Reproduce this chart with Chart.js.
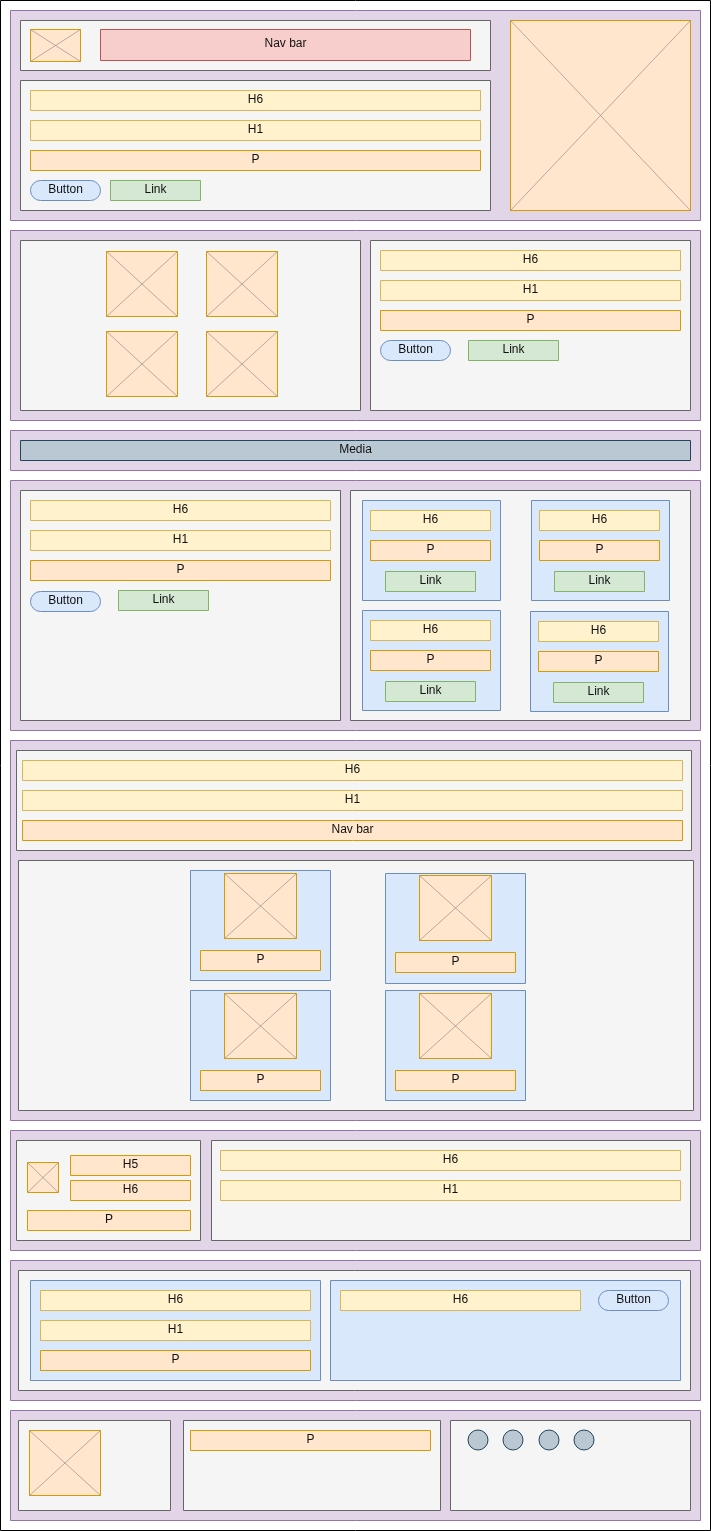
<!DOCTYPE html>
<html>
<head>
<meta charset="utf-8">
<title>Page wireframe</title>
<script src="https://cdn.jsdelivr.net/npm/chart.js@4/dist/chart.umd.min.js"></script>
<style>
  html, body { margin: 0; padding: 0; background: #fff; }
  canvas { display: block; }
</style>
</head>
<body>
<canvas id="page" width="711" height="1531"></canvas>
<script>
/* ===== DATA ===== */
// every box is [x, y, width, height] in page units, labelled ones add a text
const PAGE_W = 711;
const PAGE_H = 1531;

const frame = [[0, 0, 710, 1530]];

const sections = [
  [10, 10, 690, 210], [10, 230, 690, 190], [10, 430, 690, 40], [10, 480, 690, 250],
  [10, 740, 690, 380], [10, 1130, 690, 120], [10, 1260, 690, 140], [10, 1410, 690, 110]
];

const panels = [
  [20, 20, 470, 50], [20, 80, 470, 130],
  [20, 240, 340, 170], [370, 240, 320, 170],
  [20, 490, 320, 230], [350, 490, 340, 230],
  [16, 750, 675, 100], [18, 860, 675, 250],
  [16, 1140, 184, 100], [211, 1140, 479, 100],
  [18, 1270, 672, 120],
  [18, 1420, 152, 90], [183, 1420, 257, 90], [450, 1420, 240, 90]
];

const cards = [
  [362, 500, 138, 100], [531, 500, 138, 100], [362, 610, 138, 100], [530, 611, 138, 100],
  [190, 870, 140, 110], [385, 873, 140, 110], [190, 990, 140, 110], [385, 990, 140, 110],
  [30, 1280, 290, 100], [330, 1280, 350, 100]
];

const images = [
  [30, 29, 50, 32], [510, 20, 180, 190],
  [106, 251, 71, 65], [206, 251, 71, 65], [106, 331, 71, 65], [206, 331, 71, 65],
  [224, 873, 72, 65], [419, 875, 72, 65], [224, 993, 72, 65], [419, 993, 72, 65],
  [27, 1162, 31, 30], [29, 1430, 71, 65]
];

const navBars = [[100, 29, 370, 31, "Nav bar"]];

const mediaBars = [[20, 440, 670, 20, "Media"]];

const headings = [
  [30, 90, 450, 20, "H6"], [30, 120, 450, 20, "H1"],
  [380, 250, 300, 20, "H6"], [380, 280, 300, 20, "H1"],
  [30, 500, 300, 20, "H6"], [30, 530, 300, 20, "H1"],
  [370, 510, 120, 20, "H6"], [539, 510, 120, 20, "H6"],
  [370, 620, 120, 20, "H6"], [538, 621, 120, 20, "H6"],
  [22, 760, 660, 20, "H6"], [22, 790, 660, 20, "H1"],
  [220, 1150, 460, 20, "H6"], [220, 1180, 460, 20, "H1"],
  [40, 1290, 270, 20, "H6"], [40, 1320, 270, 20, "H1"], [340, 1290, 240, 20, "H6"]
];

const paragraphs = [
  [30, 150, 450, 20, "P"], [380, 310, 300, 20, "P"], [30, 560, 300, 20, "P"],
  [370, 540, 120, 20, "P"], [539, 540, 120, 20, "P"],
  [370, 650, 120, 20, "P"], [538, 651, 120, 20, "P"],
  [22, 820, 660, 20, "Nav bar"],
  [200, 950, 120, 20, "P"], [395, 952, 120, 20, "P"],
  [200, 1070, 120, 20, "P"], [395, 1070, 120, 20, "P"],
  [70, 1155, 120, 20, "H5"], [70, 1180, 120, 20, "H6"], [27, 1210, 163, 20, "P"],
  [40, 1350, 270, 20, "P"], [190, 1430, 240, 20, "P"]
];

const links = [
  [110, 180, 90, 20, "Link"], [468, 340, 90, 20, "Link"], [118, 590, 90, 20, "Link"],
  [385, 571, 90, 20, "Link"], [554, 571, 90, 20, "Link"],
  [385, 681, 90, 20, "Link"], [553, 682, 90, 20, "Link"]
];

const buttons = [
  [30, 180, 70, 20, "Button"], [380, 340, 70, 20, "Button"],
  [30, 591, 70, 20, "Button"], [598, 1290, 70, 20, "Button"]
];

// social icons in the footer
const iconX = [478, 513, 549, 584];
const iconY = [1440, 1440, 1440, 1440];

/* ===== STYLES ===== */
const STYLE = {
  frame:     { fill: "#ffffff", stroke: "#000000" },
  section:   { fill: "#e1d5e7", stroke: "#9673a6" },
  panel:     { fill: "#f5f5f5", stroke: "#666666" },
  card:      { fill: "#dae8fc", stroke: "#6c8ebf" },
  image:     { fill: "#ffe6cc", stroke: "#d79b00" },
  nav:       { fill: "#f8cecc", stroke: "#b85450" },
  media:     { fill: "#bac8d3", stroke: "#23445d" },
  heading:   { fill: "#fff2cc", stroke: "#d6b656" },
  paragraph: { fill: "#ffe6cc", stroke: "#d79b00" },
  link:      { fill: "#d5e8d4", stroke: "#82b366" },
  button:    { fill: "#dae8fc", stroke: "#6c8ebf", round: true }
};

/* ===== WIREFRAME PLUGIN ===== */
function toPixels(chart, b) {
  const { x, y } = chart.scales;
  const l = Math.round(x.getPixelForValue(b[0]));
  const r = Math.round(x.getPixelForValue(b[0] + b[2]));
  const t = Math.round(y.getPixelForValue(b[1]));
  const bt = Math.round(y.getPixelForValue(b[1] + b[3]));
  return { l: l + 0.5, t: t + 0.5, w: r - l, h: bt - t };
}

function pathBox(ctx, p, round) {
  ctx.beginPath();
  if (!round) {
    ctx.rect(p.l, p.t, p.w, p.h);
    return;
  }
  const rad = p.h / 2;
  ctx.moveTo(p.l + rad, p.t);
  ctx.lineTo(p.l + p.w - rad, p.t);
  ctx.arc(p.l + p.w - rad, p.t + rad, rad, -Math.PI / 2, Math.PI / 2);
  ctx.lineTo(p.l + rad, p.t + p.h);
  ctx.arc(p.l + rad, p.t + rad, rad, Math.PI / 2, Math.PI * 1.5);
  ctx.closePath();
}

function drawBoxes(chart, list, kind) {
  const ctx = chart.ctx;
  const st = STYLE[kind];
  list.forEach(b => {
    const p = toPixels(chart, b);
    pathBox(ctx, p, st.round);
    ctx.fillStyle = st.fill;
    ctx.fill();
    ctx.lineWidth = 1;
    ctx.strokeStyle = st.stroke;
    ctx.stroke();

    if (kind === "image") {
      ctx.beginPath();
      ctx.moveTo(p.l, p.t);
      ctx.lineTo(p.l + p.w, p.t + p.h);
      ctx.moveTo(p.l + p.w, p.t);
      ctx.lineTo(p.l, p.t + p.h);
      ctx.strokeStyle = "rgba(130,130,130,0.6)";
      ctx.stroke();
    }

    if (b[4]) {
      ctx.fillStyle = "#111111";
      ctx.font = '12px "Liberation Sans", Arial, Helvetica, sans-serif';
      ctx.textAlign = "center";
      ctx.textBaseline = "middle";
      ctx.fillText(b[4], p.l + p.w / 2, p.t + p.h / 2 - 1);
    }
  });
}

const wireframe = {
  id: "wireframe",
  beforeDatasetsDraw(chart) {
    drawBoxes(chart, frame, "frame");
    drawBoxes(chart, sections, "section");
    drawBoxes(chart, panels, "panel");
    drawBoxes(chart, cards, "card");
    drawBoxes(chart, mediaBars, "media");
    drawBoxes(chart, navBars, "nav");
    drawBoxes(chart, headings, "heading");
    drawBoxes(chart, paragraphs, "paragraph");
    drawBoxes(chart, links, "link");
    drawBoxes(chart, buttons, "button");
    drawBoxes(chart, images, "image");
  }
};

/* ===== CHART ===== */
new Chart(document.getElementById("page"), {
  type: "scatter",
  data: {
    datasets: [{
      label: "Social icons",
      data: iconX.map((v, i) => ({ x: v, y: iconY[i] })),
      pointRadius: 10,
      pointHoverRadius: 10,
      pointBackgroundColor: "#bac8d3",
      pointBorderColor: "#23445d",
      pointBorderWidth: 1
    }]
  },
  options: {
    responsive: false,
    animation: false,
    layout: { padding: 0, autoPadding: false },
    events: [],
    plugins: {
      legend: { display: false },
      tooltip: { enabled: false }
    },
    scales: {
      x: { type: "linear", min: 0, max: PAGE_W, display: false },
      y: { type: "linear", min: 0, max: PAGE_H, reverse: true, display: false }
    }
  },
  plugins: [wireframe]
});
</script>
</body>
</html>
